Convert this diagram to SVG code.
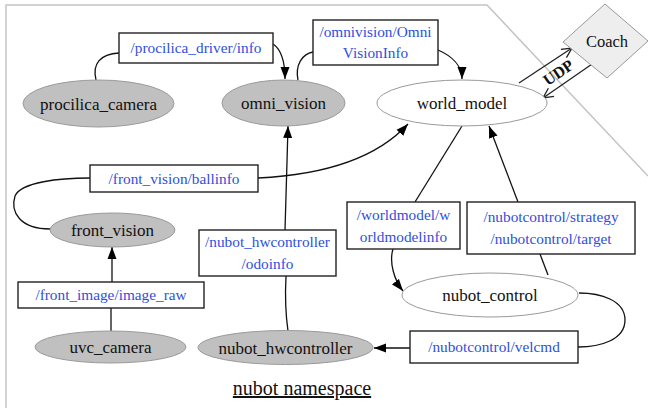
<svg xmlns="http://www.w3.org/2000/svg" width="648" height="408" viewBox="0 0 648 408">
<style>
.frame{fill:none;stroke:#c4c4c4;stroke-width:1.5}
.gn{fill:#c0c0c0;stroke:#9a9a9a;stroke-width:1}
.wn{fill:#fff;stroke:#9a9a9a;stroke-width:1}
.nt{font-family:"Liberation Serif","Times New Roman",serif;font-size:17px;fill:#111;text-anchor:middle}
.tb{fill:#fff;stroke:#222;stroke-width:1.4}
.tt{font-family:"Liberation Serif","Times New Roman",serif;font-size:15.3px;fill:#2e50e0;text-anchor:middle}
.e{fill:none;stroke:#111;stroke-width:1.3}
.ea{fill:none;stroke:#111;stroke-width:1.3;marker-end:url(#ah)}
.eu{fill:none;stroke:#222;stroke-width:1.3;marker-end:url(#oh)}
</style>
<defs>
<marker id="ah" viewBox="0 0 12 10" refX="12" refY="5" markerWidth="12" markerHeight="10" markerUnits="userSpaceOnUse" orient="auto"><path d="M0,0.5 L12,5 L0,9.5 z" fill="#000"/></marker>
<marker id="oh" viewBox="0 0 12 12" refX="11" refY="6" markerWidth="12" markerHeight="12" markerUnits="userSpaceOnUse" orient="auto"><path d="M1,1 L11,6 L1,11" fill="none" stroke="#222" stroke-width="1.3"/></marker>
</defs>
<rect width="648" height="408" fill="#fff"/>
<polyline class="frame" points="6,408 6,5 487,5 648,176"/>

<g id="connectors">
<path class="e" d="M96,80 C92,64 100,54 119,53"/>
<path class="ea" d="M273,44 C282,50 285,62 285,79"/>
<path class="e" d="M298,80 C295,65 302,54 313,52"/>
<path class="ea" d="M438,50 C452,56 462,66 462,79"/>
<path class="e" d="M50,229 C20,229 10,212 15,196 C21,182 60,178 90,178"/>
<path class="ea" d="M258,178 C320,175 375,160 408,124"/>
<path class="ea" d="M285,230 C286,200 287,160 288,126"/>
<path class="e" d="M288,331 C285,310 285,295 286,276"/>
<path class="e" d="M111,331 L111,308"/>
<path class="ea" d="M112,282 L112,247"/>
<path class="e" d="M462,126 L415,202"/>
<path class="ea" d="M393,249 C389,262 394,280 403,291"/>
<path class="e" d="M548,275 L540,254"/>
<path class="ea" d="M518,202 L489,126"/>
<path class="e" d="M579,293 C600,293 625,300 625,320 C625,340 600,347 578,347"/>
<path class="ea" d="M410,348 L374,348"/>
<path class="eu" d="M519,83 L572,48"/>
<path class="eu" d="M595,62 L543,98"/>
<text x="558" y="78" transform="rotate(-34 558 72)" font-family="Liberation Serif,Times New Roman,serif" font-size="16" font-weight="bold" text-anchor="middle" fill="#111">UDP</text>
</g>

<g id="procilica_camera"><ellipse class="gn" cx="98.5" cy="103.5" rx="75.5" ry="23.5"/><text class="nt" x="98.5" y="109.5">procilica_camera</text></g>
<g id="omni_vision"><ellipse class="gn" cx="283.5" cy="103" rx="61.5" ry="23"/><text class="nt" x="283.5" y="109">omni_vision</text></g>
<g id="world_model"><ellipse class="wn" cx="462" cy="103" rx="85" ry="23"/><text class="nt" x="462" y="109">world_model</text></g>
<g id="front_vision"><ellipse class="gn" cx="112.5" cy="230" rx="62.5" ry="17"/><text class="nt" x="112.5" y="236">front_vision</text></g>
<g id="uvc_camera"><ellipse class="gn" cx="110.5" cy="347" rx="75.5" ry="16"/><text class="nt" x="110.5" y="353">uvc_camera</text></g>
<g id="nubot_hwcontroller"><ellipse class="gn" cx="285.5" cy="347.5" rx="87.5" ry="17"/><text class="nt" x="285.5" y="353.5">nubot_hwcontroller</text></g>
<g id="nubot_control"><ellipse class="wn" cx="490" cy="295" rx="88" ry="22"/><text class="nt" x="490" y="301">nubot_control</text></g>
<g id="Coach"><polygon points="605,4 648,41 607,78 563,42" fill="#eeeeee" stroke="#999" stroke-width="1"/><text x="607" y="47" font-family="Liberation Serif,Times New Roman,serif" font-size="16.5" text-anchor="middle" fill="#111">Coach</text></g>

<g id="t_procilica_info"><rect class="tb" x="119" y="33" width="154" height="30"/><text class="tt" x="196" y="53">/procilica_driver/info</text></g>
<g id="t_omnivisioninfo"><rect class="tb" x="313" y="20" width="125" height="45"/><text class="tt" x="375.5" y="37">/omnivision/Omni</text><text class="tt" x="375.5" y="58">VisionInfo</text></g>
<g id="t_ballinfo"><rect class="tb" x="90" y="165" width="168" height="27"/><text class="tt" x="174" y="184">/front_vision/ballinfo</text></g>
<g id="t_odoinfo"><rect class="tb" x="199" y="230" width="137" height="46"/><text class="tt" x="267.5" y="247">/nubot_hwcontroller</text><text class="tt" x="267.5" y="269">/odoinfo</text></g>
<g id="t_worldmodelinfo"><rect class="tb" x="347" y="202" width="113" height="47"/><text class="tt" x="403.5" y="220">/worldmodel/w</text><text class="tt" x="403.5" y="242">orldmodelinfo</text></g>
<g id="t_strategy"><rect class="tb" x="467" y="202" width="168" height="52"/><text class="tt" x="551" y="222">/nubotcontrol/strategy</text><text class="tt" x="551" y="244">/nubotcontrol/target</text></g>
<g id="t_image_raw"><rect class="tb" x="18" y="282" width="186" height="26"/><text class="tt" x="111" y="300">/front_image/image_raw</text></g>
<g id="t_velcmd"><rect class="tb" x="410" y="331" width="168" height="32"/><text class="tt" x="494" y="352">/nubotcontrol/velcmd</text></g>

<text x="302" y="395" font-family="Liberation Serif,Times New Roman,serif" font-size="20" text-anchor="middle" fill="#111" text-decoration="underline">nubot namespace</text>
</svg>
